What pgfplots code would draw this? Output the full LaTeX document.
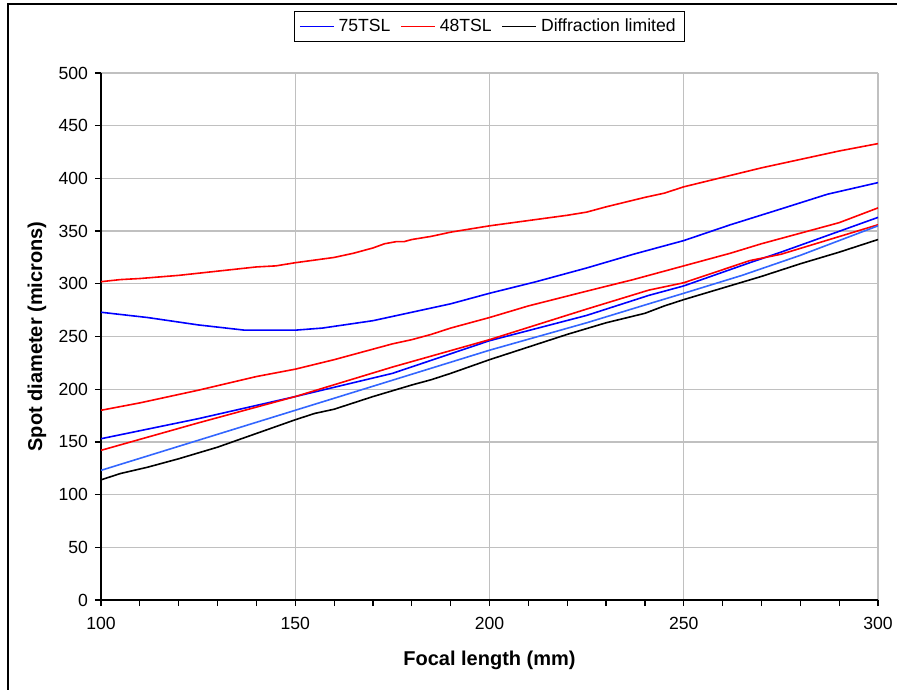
\documentclass[border=0pt]{standalone}
\usepackage{pgfplots}
\pgfplotsset{compat=1.18}
\usepackage{fontspec}
\setmainfont{Liberation Sans}
\definecolor{lightblue}{RGB}{51,102,255}
\definecolor{gridgray}{RGB}{192,192,192}

\begin{document}
\begin{tikzpicture}
\begin{axis}[
    scale only axis,
    width=388.5pt, height=263.5pt,
    xmin=100, xmax=300, ymin=0, ymax=500,
    xtick={100,150,...,300}, ytick={0,50,...,500},
    minor x tick num=4,
    axis x line*=bottom, axis y line*=left,
    axis line style={black, line width=0.7pt},
    tick align=outside,
    major tick length=3pt, minor tick length=3pt,
    tick style={black, line width=0.6pt},
    grid=major,
    major grid style={gridgray, line width=0.6pt},
    /pgf/number format/assume math mode=true,
    tick label style={font=\fontsize{8.8}{10}\selectfont},
    xticklabel style={yshift=-2pt},
    xlabel={\textbf{Focal length (mm)}},
    ylabel={\textbf{Spot diameter (microns)}},
    label style={font=\fontsize{9.2}{11}\selectfont},
    every axis x label/.style={at={(axis description cs:0.5,0)}, yshift=-30pt, anchor=center},
    every axis y label/.style={at={(axis description cs:0,0.5)}, xshift=-32pt, rotate=90, anchor=center},
    legend columns=3,
    legend style={at={(0.5,1)}, anchor=south, yshift=15.5pt, draw=black, line width=0.6pt,
        font=\fontsize{8.8}{10}\selectfont, inner xsep=2.5pt, inner ysep=1.5pt,
        /tikz/every even column/.append style={column sep=3pt}},
    legend image post style={line width=0.6pt},
    every axis plot/.append style={line width=0.8pt},
]
% 75TSL upper
\addplot[blue] coordinates {(100,273) (112,268) (125,261) (137,256) (150,256) (157,258) (170,265) (180,273) (190,281) (200,291) (212,302) (225,315) (237,328) (250,341) (262,356) (275,371) (287,385) (300,396)};
\addlegendentry{75TSL}
% 48TSL upper
\addplot[red] coordinates {(100,302) (105,304) (110,305) (120,308) (130,312) (140,316) (145,317) (150,320) (160,325) (165,329) (170,334) (173,338) (176,340) (178,340) (180,342) (185,345) (190,349) (200,355) (210,360) (220,365) (225,368) (230,373) (240,382) (245,386) (250,392) (260,401) (270,410) (280,418) (290,426) (300,433)};
\addlegendentry{48TSL}
% diffraction limited
\addplot[black] coordinates {(100,114) (105,120) (112,126) (120,134) (130,145) (140,158) (150,171) (155,177) (160,181) (170,193) (180,204) (185,209) (190,215) (200,228) (210,240) (220,252) (230,263) (240,272) (245,279) (250,285) (260,296) (270,307) (280,319) (290,330) (300,342)};
\addlegendentry{Diffraction limited}
% 48TSL middle
\addplot[red, forget plot] coordinates {(100,180) (110,187) (125,199) (140,212) (150,219) (160,228) (165,233) (170,238) (175,243) (180,247) (185,252) (190,258) (200,268) (210,279) (225,293) (237,304) (250,317) (262,329) (270,338) (280,348) (290,358) (300,372)};
% 75TSL lower
\addplot[blue, forget plot] coordinates {(100,153) (125,172) (150,193) (175,215) (200,246) (225,270) (241,289) (250,298) (267,320) (275,330) (300,363)};
% 48TSL lower
\addplot[red, forget plot] coordinates {(100,142) (125,168) (150,193) (175,221) (200,247) (225,276) (241,294) (250,301) (267,322) (275,328) (300,356)};
% 75TSL light
\addplot[lightblue, forget plot] coordinates {(100,123) (150,180) (200,237) (225,263) (241,281) (250,291) (265,308) (280,327) (300,355)};
\end{axis}
\pgfresetboundingbox
\useasboundingbox (-50.5pt,-44.5pt) rectangle (398pt,300pt);
\draw[black, line width=1pt] (-46.5pt,-50pt) -- (-46.5pt,298pt) -- (405pt,298pt);
\end{tikzpicture}
\end{document}
